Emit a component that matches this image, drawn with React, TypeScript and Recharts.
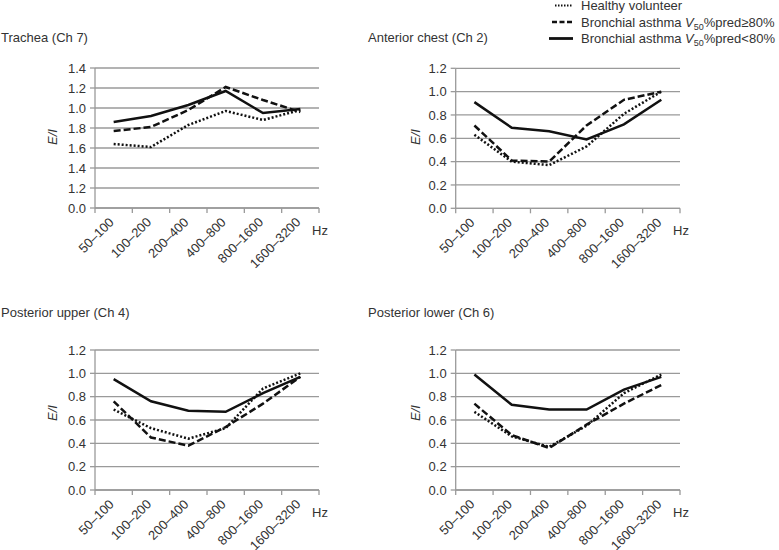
import React from "react";
import { LineChart, Line, XAxis, YAxis, CartesianGrid } from "recharts";

const categories = ["50–100", "100–200", "200–400", "400–800", "800–1600", "1600–3200"];

const tracheaHealthy = [0.64, 0.61, 0.83, 0.97, 0.88, 0.98];
const tracheaGe80 = [0.77, 0.81, 0.98, 1.21, 1.08, 0.96];
const tracheaLt80 = [0.86, 0.92, 1.03, 1.17, 0.95, 0.99];

const anteriorHealthy = [0.63, 0.4, 0.37, 0.53, 0.81, 1.0];
const anteriorGe80 = [0.71, 0.41, 0.4, 0.71, 0.93, 1.0];
const anteriorLt80 = [0.91, 0.69, 0.66, 0.59, 0.72, 0.93];

const postUpperHealthy = [0.69, 0.53, 0.44, 0.53, 0.87, 1.0];
const postUpperGe80 = [0.76, 0.45, 0.38, 0.54, 0.74, 0.97];
const postUpperLt80 = [0.95, 0.76, 0.68, 0.67, 0.83, 0.97];

const postLowerHealthy = [0.67, 0.46, 0.37, 0.55, 0.83, 0.99];
const postLowerGe80 = [0.74, 0.47, 0.36, 0.56, 0.74, 0.9];
const postLowerLt80 = [0.99, 0.73, 0.69, 0.69, 0.86, 0.97];

const yTicks14 = [0, 0.2, 0.4, 0.6, 0.8, 1.0, 1.2, 1.4];
const yTicks12 = [0, 0.2, 0.4, 0.6, 0.8, 1.0, 1.2];
// tick labels as printed in the trachea panel
const tracheaTickLabels = ["0.0", "1.2", "1.4", "1.6", "1.8", "1.0", "1.2", "1.4"];
const standardTickLabels = ["0.0", "0.2", "0.4", "0.6", "0.8", "1.0", "1.2"];

const FONT = '"Liberation Sans", Arial, sans-serif';
const GRAY = "#9a9a9a";
const TEXT = "#333";
const LINE = "#111";

const xTicks = [0, 0.5, 1, 1.5, 2, 2.5, 3, 3.5, 4, 4.5, 5, 5.5, 6];

function buildData(h: number[], g: number[], l: number[]) {
  return categories.map((c, i) => ({ x: i + 0.5, cat: c, hv: h[i], ge: g[i], lt: l[i] }));
}

const XTick = (props: any) => {
  const { x, y, payload } = props;
  const v = payload.value;
  if (Number.isInteger(v)) {
    return <line x1={x} y1={y} x2={x} y2={y + 5} stroke={GRAY} strokeWidth={1.3} />;
  }
  const label = categories[Math.floor(v)];
  const ax = x + 1;
  const ay = y + 15;
  return (
    <text
      x={ax}
      y={ay}
      transform={`rotate(-45, ${ax}, ${ay})`}
      textAnchor="end"
      fontSize={13}
      fontFamily={FONT}
      fill={TEXT}
    >
      {label}
    </text>
  );
};

type PanelProps = {
  left: number;
  top: number;
  width: number;
  height: number;
  plotLeft: number;
  plotRight: number;
  plotTop: number;
  plotBottom: number;
  yMax: number;
  yTicks: number[];
  yLabels: string[];
  data: any[];
};

const Panel = (p: PanelProps) => {
  const yAxisWidth = 45;
  const xAxisHeight = 30;
  const margin = {
    top: p.plotTop,
    right: p.width - p.plotRight,
    left: p.plotLeft - yAxisWidth,
    bottom: p.height - p.plotBottom - xAxisHeight,
  };
  return (
    <div style={{ position: "absolute", left: p.left, top: p.top }}>
      <LineChart width={p.width} height={p.height} data={p.data} margin={margin}>
        <CartesianGrid vertical={false} stroke={GRAY} strokeWidth={1.3} />
        <XAxis
          dataKey="x"
          type="number"
          domain={[0, 6]}
          ticks={xTicks}
          interval={0}
          height={xAxisHeight}
          tickLine={false}
          tickSize={0}
          tickMargin={0}
          tick={<XTick />}
          stroke={GRAY}
          strokeWidth={1.3}
        />
        <YAxis
          type="number"
          domain={[0, p.yMax]}
          ticks={p.yTicks}
          interval={0}
          width={yAxisWidth}
          tickSize={5}
          tickMargin={4}
          tickFormatter={(v: number) => p.yLabels[Math.round(v / 0.2)]}
          tick={{ fontSize: 13, fontFamily: FONT, fill: TEXT }}
          stroke={GRAY}
          strokeWidth={1.3}
        />
        <Line
          dataKey="hv"
          type="linear"
          stroke={LINE}
          strokeWidth={2.5}
          strokeDasharray="2 2"
          dot={false}
          isAnimationActive={false}
        />
        <Line
          dataKey="ge"
          type="linear"
          stroke={LINE}
          strokeWidth={2.5}
          strokeDasharray="7 3"
          dot={false}
          isAnimationActive={false}
        />
        <Line
          dataKey="lt"
          type="linear"
          stroke={LINE}
          strokeWidth={2.5}
          dot={false}
          isAnimationActive={false}
        />
      </LineChart>
    </div>
  );
};

const Overlay = () => {
  const titles = [
    { x: 1, y: 41.5, t: "Trachea (Ch 7)" },
    { x: 368, y: 41.5, t: "Anterior chest (Ch 2)" },
    { x: 1, y: 316.5, t: "Posterior upper (Ch 4)" },
    { x: 368, y: 316.5, t: "Posterior lower (Ch 6)" },
  ];
  const eiLabels = [
    { x: 52, y: 137 },
    { x: 415, y: 137 },
    { x: 52, y: 413 },
    { x: 415, y: 413 },
  ];
  const hz = [
    { x: 312, y: 235 },
    { x: 673, y: 235 },
    { x: 312, y: 517 },
    { x: 673, y: 517 },
  ];
  const legendRows = [
    { y: 10, dash: "1.5 1.5", w: 1.8, x1: 555, kind: "hv" },
    { y: 26.5, dash: "5 2.5", w: 2.5, x1: 552, kind: "ge" },
    { y: 43, dash: undefined, w: 2.8, x1: 549, kind: "lt" },
  ];
  return (
    <svg
      width={779}
      height={550}
      style={{ position: "absolute", left: 0, top: 0, pointerEvents: "none" }}
      fontFamily={FONT}
    >
      {titles.map((t, i) => (
        <text key={i} x={t.x} y={t.y} fontSize={13} fill={TEXT}>
          {t.t}
        </text>
      ))}
      {eiLabels.map((e, i) => (
        <text
          key={i}
          x={e.x}
          y={e.y}
          fontSize={13}
          fill={TEXT}
          fontStyle="italic"
          textAnchor="middle"
          dominantBaseline="central"
          transform={`rotate(-90, ${e.x}, ${e.y})`}
        >
          E/I
        </text>
      ))}
      {hz.map((h, i) => (
        <text key={i} x={h.x} y={h.y} fontSize={13} fill={TEXT}>
          Hz
        </text>
      ))}
      {legendRows.map((r, i) => (
        <line
          key={i}
          x1={r.x1}
          x2={573}
          y1={r.y - 4.5}
          y2={r.y - 4.5}
          stroke={LINE}
          strokeWidth={r.w}
          strokeDasharray={r.dash}
        />
      ))}
      <text x={581} y={10} fontSize={13} fill={TEXT}>
        Healthy volunteer
      </text>
      <text x={581} y={26.5} fontSize={13} fill={TEXT}>
        <tspan>Bronchial asthma </tspan>
        <tspan fontStyle="italic">V</tspan>
        <tspan fontSize={9} dy={3}>50</tspan>
        <tspan dy={-3}>%pred≥80%</tspan>
      </text>
      <text x={581} y={43} fontSize={13} fill={TEXT}>
        <tspan>Bronchial asthma </tspan>
        <tspan fontStyle="italic">V</tspan>
        <tspan fontSize={9} dy={3}>50</tspan>
        <tspan dy={-3}>%pred&lt;80%</tspan>
      </text>
    </svg>
  );
};

export default function App() {
  return (
    <div
      style={{
        position: "absolute",
        left: 0,
        top: 0,
        width: 779,
        height: 550,
        background: "#fff",
        overflow: "hidden",
      }}
    >
      <Panel
        left={0}
        top={0}
        width={390}
        height={275}
        plotLeft={95}
        plotRight={319}
        plotTop={68}
        plotBottom={208}
        yMax={1.4}
        yTicks={yTicks14}
        yLabels={tracheaTickLabels}
        data={buildData(tracheaHealthy, tracheaGe80, tracheaLt80)}
      />
      <Panel
        left={390}
        top={0}
        width={389}
        height={275}
        plotLeft={65.7}
        plotRight={290}
        plotTop={68.3}
        plotBottom={208.3}
        yMax={1.2}
        yTicks={yTicks12}
        yLabels={standardTickLabels}
        data={buildData(anteriorHealthy, anteriorGe80, anteriorLt80)}
      />
      <Panel
        left={0}
        top={275}
        width={390}
        height={275}
        plotLeft={95}
        plotRight={319}
        plotTop={75}
        plotBottom={215}
        yMax={1.2}
        yTicks={yTicks12}
        yLabels={standardTickLabels}
        data={buildData(postUpperHealthy, postUpperGe80, postUpperLt80)}
      />
      <Panel
        left={390}
        top={275}
        width={389}
        height={275}
        plotLeft={65.7}
        plotRight={290}
        plotTop={75}
        plotBottom={215}
        yMax={1.2}
        yTicks={yTicks12}
        yLabels={standardTickLabels}
        data={buildData(postLowerHealthy, postLowerGe80, postLowerLt80)}
      />
      <Overlay />
    </div>
  );
}
